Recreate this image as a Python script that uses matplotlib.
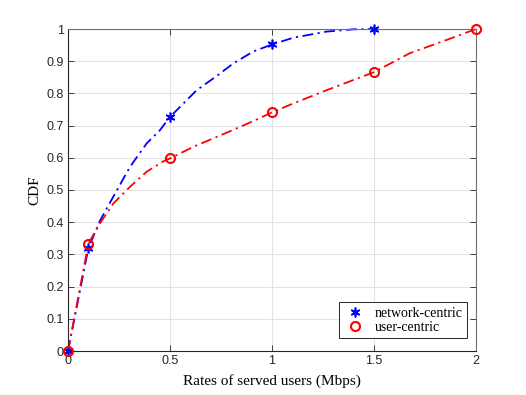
import matplotlib
matplotlib.use("Agg")
import matplotlib.pyplot as plt

# Marker data
net_x = [0, 0.1, 0.5, 1.0, 1.5]
net_y = [0, 0.32, 0.727, 0.952, 1.0]
user_x = [0, 0.1, 0.5, 1.0, 1.5, 2.0]
user_y = [0, 0.333, 0.598, 0.741, 0.866, 1.0]

# Curve traces
net_line_x = [0, 0.1, 0.157, 0.19, 0.222, 0.304, 0.386, 0.451, 0.5, 0.631, 0.729, 0.81, 0.908, 1.0, 1.105, 1.268, 1.40, 1.5]
net_line_y = [0, 0.32, 0.405, 0.443, 0.479, 0.572, 0.645, 0.686, 0.727, 0.81, 0.854, 0.893, 0.93, 0.952, 0.973, 0.992, 0.999, 1.0]
user_line_x = [0, 0.1, 0.157, 0.222, 0.304, 0.386, 0.467, 0.5, 0.614, 0.778, 0.908, 1.0, 1.105, 1.268, 1.5, 1.676, 1.856, 2.0]
user_line_y = [0, 0.333, 0.397, 0.458, 0.51, 0.557, 0.589, 0.598, 0.634, 0.678, 0.714, 0.741, 0.769, 0.81, 0.866, 0.925, 0.966, 1.0]

x_ticks = [0, 0.5, 1, 1.5, 2]
x_tick_labels = ["0", "0.5", "1", "1.5", "2"]
y_ticks = [0, 0.1, 0.2, 0.3, 0.4, 0.5, 0.6, 0.7, 0.8, 0.9, 1.0]
y_tick_labels = ["0", "0.1", "0.2", "0.3", "0.4", "0.5", "0.6", "0.7", "0.8", "0.9", "1"]

fig = plt.figure(figsize=(5.26, 3.95), dpi=100)
ax = fig.add_axes([68/526, 44/395, (476-68)/526, (351-29)/395])

dash = (0, (6, 2.5, 1.2, 2.5))
ax.plot(net_line_x, net_line_y, color="#0000ff", linestyle=dash, linewidth=1.3, clip_on=False)
ax.plot(net_x, net_y, linestyle="none", marker=(6, 2, 0), color="#0000ff",
        markersize=7, markeredgewidth=1.2, label="network-centric", clip_on=False, zorder=3)
ax.plot(user_line_x, user_line_y, color="#ff0000", linestyle=dash, linewidth=1.3, clip_on=False)
ax.plot(user_x, user_y, linestyle="none", marker="o", markerfacecolor="none",
        markeredgecolor="#ff0000", markersize=6.5, markeredgewidth=1.5, label="user-centric",
        clip_on=False, zorder=3)

ax.set_xlim(0, 2)
ax.set_ylim(0, 1)
ax.set_xticks(x_ticks)
ax.set_xticklabels(x_tick_labels)
ax.set_yticks(y_ticks)
ax.set_yticklabels(y_tick_labels)
ax.grid(True, color="#e3e3e3", linewidth=0.8)
ax.set_axisbelow(True)

for lab in ax.get_xticklabels() + ax.get_yticklabels():
    lab.set_fontfamily("Liberation Sans")
    lab.set_fontsize(9)
    lab.set_color("#262626")

ax.tick_params(direction="in", length=4, width=0.6, color="#262626",
               top=True, right=True, pad=3)
for name, s in ax.spines.items():
    s.set_color("#262626" if name in ("left", "bottom") else "#707070")
    s.set_linewidth(0.8)

ax.set_xlabel("Rates of served users (Mbps)", fontfamily="Liberation Serif", fontsize=11, labelpad=5)
ax.set_ylabel("CDF", fontfamily="Liberation Serif", fontsize=11, labelpad=4)

leg = ax.legend(loc="lower right", prop={"family": "Liberation Serif", "size": 10},
                frameon=True, fancybox=False, edgecolor="#262626", framealpha=1,
                borderpad=0.3, handlelength=1.7, handletextpad=0.6, labelspacing=0.1,
                borderaxespad=0, bbox_to_anchor=(0.978, 0.040))
leg.get_frame().set_linewidth(0.7)

fig.savefig("out.png", dpi=100)
